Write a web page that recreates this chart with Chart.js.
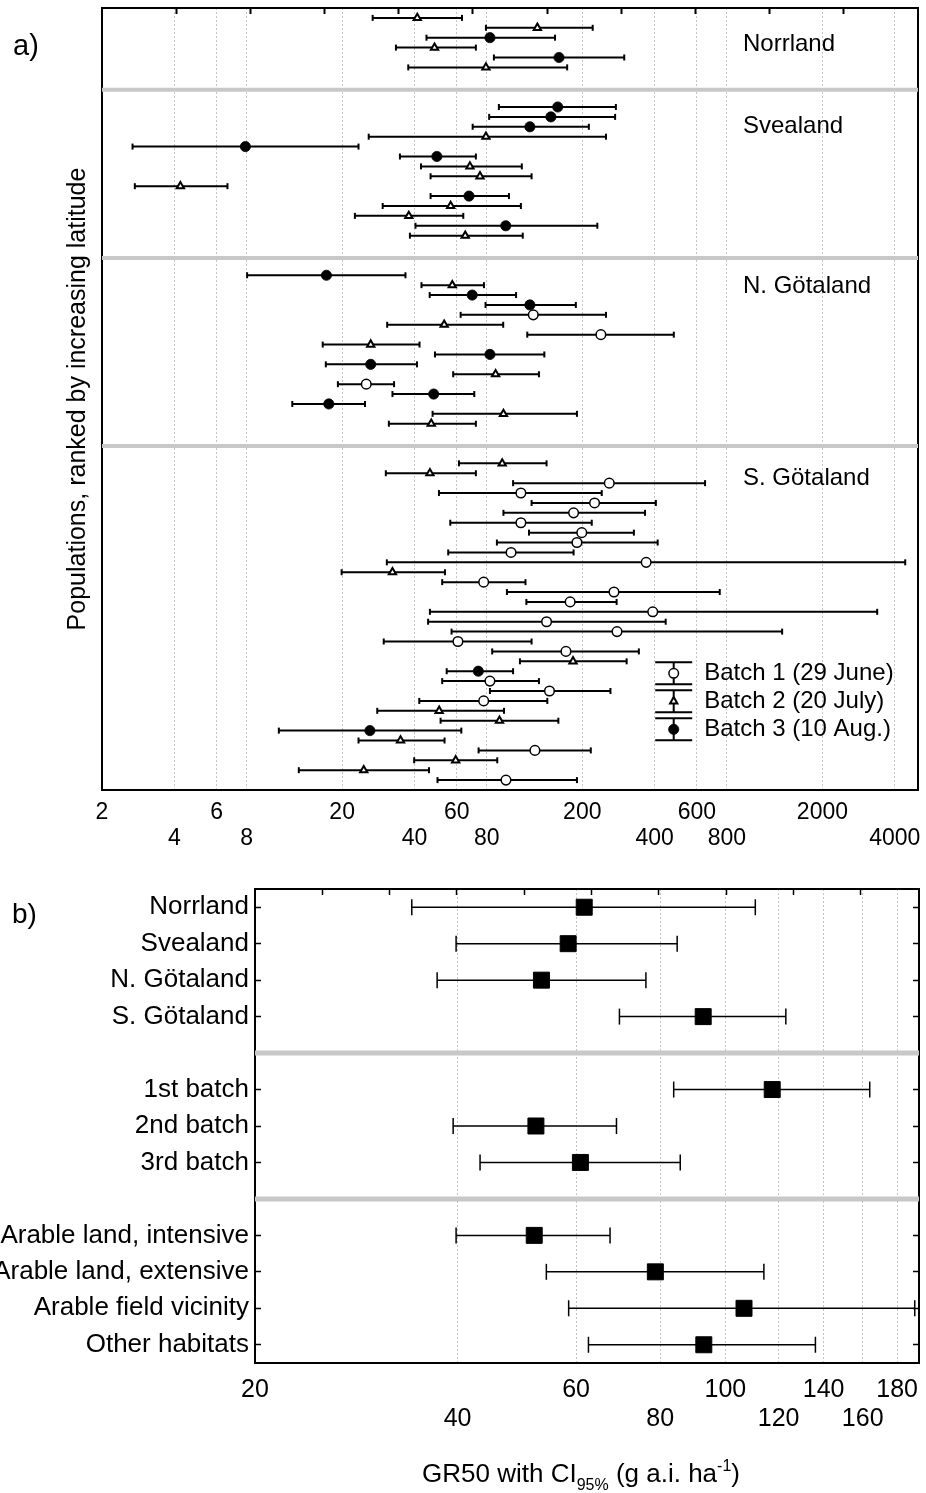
<!DOCTYPE html>
<html>
<head>
<meta charset="utf-8">
<title>GR50 with CI95%</title>
<script src="https://cdn.jsdelivr.net/npm/chart.js@4.4.1/dist/chart.umd.min.js"></script>
<style>
  body { margin: 0; background: #fff; }
  #wrapA { position: absolute; left: 0; top: 0; width: 926px; height: 870px; }
  #wrapB { position: absolute; left: 0; top: 870px; width: 926px; height: 623px; }
</style>
</head>
<body>
<div id="wrapA"><canvas id="chartA" width="926" height="870"></canvas></div>
<div id="wrapB"><canvas id="chartB" width="926" height="623"></canvas></div>
<script>
// ---- panel a: populations, ranked by increasing latitude ----
const regions = ['Norrland', 'Svealand', 'N. Götaland', 'S. Götaland'];
const regionSizes = [6, 14, 16, 33];

// 1 = batch 1 (29 June), 2 = batch 2 (20 July), 3 = batch 3 (10 Aug.)
const batchA = [
  2, 2, 3, 2, 3, 2,
  3, 3, 3, 2, 3, 3, 2, 2, 2, 3, 2, 2, 3, 2,
  3, 2, 3, 3, 1, 2, 1, 2, 3, 3, 2, 1, 3, 3, 2, 2,
  2, 2, 1, 1, 1, 1, 1, 1, 1, 1, 1, 2, 1, 1, 1, 1, 1, 1, 1, 1, 2, 3, 1, 1, 1, 2, 2, 3, 2, 1, 2, 2, 1
];
const gr50A = [
  41.1, 130, 82.5, 48.5, 160, 79.4,
  158, 148, 121, 79.4, 7.91, 49.6, 68.1, 75.0, 4.24, 67.5, 56.6, 37.9, 96, 65.1,
  17.2, 57.5, 69.6, 121, 125, 53.2, 239, 26.3, 82.5, 26.3, 87.1, 25.2, 48.1, 17.6, 93.9, 47.0,
  92.8, 46.4, 259, 111, 225, 184, 111, 199, 190, 101, 369, 32.4, 77.7, 271, 178, 393, 142, 279,
  60.7, 171, 183, 73.8, 82.5, 146, 77.7, 50.7, 90.4, 26.1, 35.0, 127, 59.4, 24.6, 96.2
];
const lowA = [
  26.8, 79.4, 44.9, 33.5, 85.7, 37.7,
  89.9, 81.9, 69.9, 25.8, 2.68, 34.8, 42.6, 46.7, 2.74, 46.7, 29.5, 22.6, 40.4, 38.3,
  8.04, 42.8, 46.3, 79.1, 62.3, 30.8, 118, 16.6, 48.7, 17.1, 58.0, 19.2, 32.4, 12.4, 47.6, 31.3,
  61.3, 30.4, 103, 50.6, 123, 93.9, 56.4, 120, 88.2, 55.3, 30.7, 19.9, 52.2, 97.1, 117, 46.4, 45.6, 57.1,
  29.8, 84.3, 110, 54.5, 52.2, 82.5, 41.9, 28.0, 51.4, 10.9, 23.4, 74.0, 39.9, 13.2, 49.9
];
const highA = [
  63.1, 221, 154, 72.1, 299, 173,
  276, 274, 213, 251, 23.4, 72.1, 112, 123, 6.66, 99, 111, 63.9, 231, 113,
  36.7, 77.9, 106, 188, 251, 93.7, 481, 42.0, 139, 41.0, 132, 32.9, 71.0, 24.9, 190, 72.1,
  142, 72.1, 649, 241, 405, 365, 219, 328, 412, 184, 4423, 53.6, 116, 747, 278, 3381, 445, 1359,
  123, 344, 306, 103, 132, 262, 143, 94.4, 159, 62.7, 53.4, 217, 88.5, 46.0, 190
];
const tickRow1A = [2, 6, 20, 60, 200, 600, 2000];
const tickRow2A = [4, 8, 40, 80, 400, 800, 4000];
const batchNames = ['Batch 1 (29 June)', 'Batch 2 (20 July)', 'Batch 3 (10 Aug.)'];

// ---- panel b: pooled estimates ----
const labelsB = ['Norrland', 'Svealand', 'N. Götaland', 'S. Götaland',
  '1st batch', '2nd batch', '3rd batch',
  'Arable land, intensive', 'Arable land, extensive', 'Arable field vicinity', 'Other habitats'];
const groupSizesB = [4, 3, 4];
const gr50B = [61.7, 58.4, 53.3, 92.7, 117.4, 52.3, 60.9, 52.0, 78.7, 106.6, 92.9];
const lowB = [34.2, 39.8, 37.3, 69.6, 83.8, 39.4, 43.2, 39.8, 54.2, 58.5, 62.6];
const highB = [110.8, 84.8, 76.2, 123, 163.9, 68.9, 85.7, 67.4, 114.1, 191.2, 136.1];
const tickRow1B = [20, 60, 100, 140, 180];
const tickRow2B = [40, 80, 120, 160];

const FONT = "'Liberation Sans', Arial, Helvetica, sans-serif";
Chart.defaults.font.family = FONT;
Chart.defaults.color = '#000';

const markerStyles = {
  1: { style: 'circle', radius: 4.8, bg: '#fff', bw: 1.5 },
  2: { style: 'triangle', radius: 4.2, bg: '#fff', bw: 2 },
  3: { style: 'circle', radius: 5.1, bg: '#000', bw: 0.8 }
};

// row positions on the y axis, 3 empty slots between regions
const rowPosA = [];
const sepPosA = [];
let p = 0;
regionSizes.forEach((n, r) => {
  if (r > 0) { sepPosA.push(p + 1.25); p += 3; }
  for (let i = 0; i < n; i++) rowPosA.push(p++);
});

const rowPosB = [];
const sepPosB = [];
p = 0;
groupSizesB.forEach((n, g) => {
  if (g > 0) { sepPosB.push(p); p += 1; }
  for (let i = 0; i < n; i++) rowPosB.push(p++);
});

function whisker(lo, hi, y, w, cap) {
  return {
    showLine: true,
    data: [{ x: lo, y: y }, { x: hi, y: y }],
    borderColor: '#000', borderWidth: w,
    pointStyle: 'line', pointRotation: 90, pointRadius: cap,
    pointBorderColor: '#000', pointBorderWidth: w,
    order: 2
  };
}

function separator(y, xmin, xmax, w) {
  return {
    showLine: true,
    data: [{ x: xmin, y: y }, { x: xmax, y: y }],
    borderColor: '#c8c8c8', borderWidth: w,
    pointRadius: 0, order: 3
  };
}

// fixed box sizes, no extra label overhang padding
function fixSize(w, h) {
  return s => {
    if (w !== null) s.width = w;
    if (h !== null) s.height = h;
    s.paddingLeft = 0; s.paddingRight = 0; s.paddingTop = 0; s.paddingBottom = 0;
  };
}

function drawMarker(ctx, st, x, y) {
  ctx.save();
  ctx.fillStyle = st.bg;
  ctx.strokeStyle = '#000';
  ctx.lineWidth = st.bw;
  ctx.beginPath();
  if (st.style === 'triangle') {
    let rad = 0;
    ctx.moveTo(x + Math.sin(rad) * st.radius, y - Math.cos(rad) * st.radius);
    rad += 2 * Math.PI / 3;
    ctx.lineTo(x + Math.sin(rad) * st.radius, y - Math.cos(rad) * st.radius);
    rad += 2 * Math.PI / 3;
    ctx.lineTo(x + Math.sin(rad) * st.radius, y - Math.cos(rad) * st.radius);
    ctx.closePath();
  } else {
    ctx.arc(x, y, st.radius, 0, Math.PI * 2);
  }
  ctx.fill();
  ctx.stroke();
  ctx.restore();
}

// ---- chart a ----
const datasetsA = [];
[1, 2, 3].forEach(b => {
  const st = markerStyles[b];
  const pts = [];
  batchA.forEach((bb, i) => { if (bb === b) pts.push({ x: gr50A[i], y: rowPosA[i] }); });
  datasetsA.push({
    data: pts,
    pointStyle: st.style, pointRadius: st.radius,
    pointBackgroundColor: st.bg, pointBorderColor: '#000', pointBorderWidth: st.bw,
    order: 0
  });
});
gr50A.forEach((v, i) => datasetsA.push(whisker(lowA[i], highA[i], rowPosA[i], 2, 3)));
sepPosA.forEach(y => datasetsA.push(separator(y, 2, 5000, 4)));

const textA = {
  id: 'textA',
  afterDraw(chart) {
    const { ctx, chartArea } = chart;
    ctx.save();
    ctx.fillStyle = '#000';
    ctx.textBaseline = 'middle';
    ctx.textAlign = 'left';
    ctx.font = '29px ' + FONT;
    ctx.fillText('a)', 13, 47);

    ctx.font = '24px ' + FONT;
    const labelY = [44, 126, 286, 478];
    regions.forEach((r, i) => ctx.fillText(r, chartArea.left + 641, labelY[i]));

    // legend with error bar glyphs
    const gx = chartArea.right - 244.3;
    const gy = chartArea.bottom - 116.7;
    [1, 2, 3].forEach((b, i) => {
      const yy = gy + i * 28;
      ctx.strokeStyle = '#000';
      ctx.lineWidth = 2;
      ctx.beginPath();
      ctx.moveTo(gx - 18.5, yy - 11); ctx.lineTo(gx + 18.5, yy - 11);
      ctx.moveTo(gx - 18.5, yy + 11); ctx.lineTo(gx + 18.5, yy + 11);
      ctx.moveTo(gx, yy - 11); ctx.lineTo(gx, yy + 11);
      ctx.stroke();
      drawMarker(ctx, markerStyles[b], gx, yy);
      ctx.fillStyle = '#000';
      ctx.fillText(batchNames[i], gx + 30.5, yy);
    });
    ctx.restore();
  }
};

new Chart(document.getElementById('chartA'), {
  type: 'scatter',
  data: { datasets: datasetsA },
  options: {
    responsive: false,
    animation: false,
    events: [],
    layout: { padding: 0, autoPadding: false },
    plugins: { legend: { display: false }, tooltip: { enabled: false } },
    scales: {
      x: {
        type: 'logarithmic', position: 'bottom', min: 2, max: 5000,
        afterBuildTicks: s => {
          s.ticks = tickRow1A.concat(tickRow2A).sort((a, b) => a - b).map(v => ({ value: v }));
        },
        ticks: {
          autoSkip: false, maxRotation: 0, padding: 10, color: '#000',
          font: { size: 23, lineHeight: '26px' },
          callback: v => tickRow1A.includes(v) ? [String(v), ''] : ['', String(v)]
        },
        grid: { color: '#c4c4c4', lineWidth: 1, drawTicks: false },
        border: { color: '#000', width: 2, dash: [2, 2] },
        afterFit: fixSize(null, 80)
      },
      x2: {
        type: 'linear', position: 'top', min: 0, max: 11,
        afterBuildTicks: s => { s.ticks = [1, 2, 3, 4, 5, 6, 7, 8, 9, 10].map(v => ({ value: v })); },
        ticks: { display: false },
        grid: { drawOnChartArea: false, drawTicks: true, tickLength: -6, tickWidth: 2, tickColor: '#000' },
        border: { color: '#000', width: 2 },
        afterFit: fixSize(null, 8)
      },
      y: {
        type: 'linear', position: 'left', reverse: true, min: -1, max: 78,
        ticks: { display: false },
        grid: { display: false },
        border: { color: '#000', width: 2 },
        title: {
          display: true, text: 'Populations, ranked by increasing latitude',
          color: '#000', font: { size: 25 }, padding: { top: 63, bottom: 0 }
        },
        afterFit: fixSize(102, null)
      },
      y2: {
        type: 'linear', position: 'right', reverse: true, min: -1, max: 78,
        ticks: { display: false },
        grid: { display: false },
        border: { color: '#000', width: 2 },
        afterFit: fixSize(8, null)
      }
    }
  },
  plugins: [textA]
});

// ---- chart b ----
const squareStyle = { pointStyle: 'rect', pointRadius: 11.3, pointBackgroundColor: '#000', pointBorderColor: '#000', pointBorderWidth: 1 };
const datasetsB = [Object.assign({
  data: gr50B.map((v, i) => ({ x: v, y: rowPosB[i] })),
  order: 0
}, squareStyle)];
gr50B.forEach((v, i) => datasetsB.push(whisker(lowB[i], highB[i], rowPosB[i], 1.5, 8)));
sepPosB.forEach(y => datasetsB.push(separator(y, 20, 194, 5)));

const rowLabelB = {};
rowPosB.forEach((pos, i) => { rowLabelB[pos] = labelsB[i]; });

const textB = {
  id: 'textB',
  afterDraw(chart) {
    const { ctx } = chart;
    ctx.save();
    ctx.fillStyle = '#000';
    ctx.textBaseline = 'middle';
    ctx.textAlign = 'left';
    ctx.font = '28px ' + FONT;
    ctx.fillText('b)', 12, 45);

    // axis title with subscript and superscript
    const parts = [
      { t: 'GR50 with CI', size: 26, dy: 0 },
      { t: '95%', size: 16, dy: 8 },
      { t: ' (g a.i. ha', size: 26, dy: 0 },
      { t: '-1', size: 16, dy: -11 },
      { t: ')', size: 26, dy: 0 }
    ];
    let total = 0;
    parts.forEach(pt => { ctx.font = pt.size + 'px ' + FONT; pt.w = ctx.measureText(pt.t).width; total += pt.w; });
    let x = 581 - total / 2;
    const y = 603;
    ctx.textBaseline = 'alphabetic';
    parts.forEach(pt => {
      ctx.font = pt.size + 'px ' + FONT;
      ctx.fillText(pt.t, x, y + 9 + pt.dy);
      x += pt.w;
    });
    ctx.restore();
  }
};

const slotTicksB = [0, 1, 2, 3, 4, 5, 6, 7, 8, 9, 10, 11, 12];

new Chart(document.getElementById('chartB'), {
  type: 'scatter',
  data: { datasets: datasetsB },
  options: {
    responsive: false,
    animation: false,
    events: [],
    layout: { padding: 0, autoPadding: false },
    plugins: { legend: { display: false }, tooltip: { enabled: false } },
    scales: {
      x: {
        type: 'logarithmic', position: 'bottom', min: 20, max: 194,
        afterBuildTicks: s => {
          s.ticks = tickRow1B.concat(tickRow2B).sort((a, b) => a - b).map(v => ({ value: v }));
        },
        ticks: {
          autoSkip: false, maxRotation: 0, padding: 12.5, color: '#000',
          font: { size: 25, lineHeight: '29px' },
          callback: v => tickRow1B.includes(v) ? [String(v), ''] : ['', String(v)]
        },
        grid: { color: '#c4c4c4', lineWidth: 1, drawTicks: false },
        border: { color: '#000', width: 2, dash: [2, 2] },
        afterFit: fixSize(null, 130)
      },
      x2: {
        type: 'linear', position: 'top', min: 0, max: 9.864,
        afterBuildTicks: s => { s.ticks = [1, 2, 3, 4, 5, 6, 7, 8, 9].map(v => ({ value: v })); },
        ticks: { display: false },
        grid: { drawOnChartArea: false, drawTicks: true, tickLength: -6, tickWidth: 1.5, tickColor: '#000' },
        border: { color: '#000', width: 2 },
        afterFit: fixSize(null, 19)
      },
      y: {
        type: 'linear', position: 'left', reverse: true, min: -0.5, max: 12.5,
        afterBuildTicks: s => { s.ticks = slotTicksB.map(v => ({ value: v })); },
        ticks: {
          autoSkip: false, padding: 12, color: '#000', font: { size: 26 },
          callback: v => rowLabelB[v] || ''
        },
        grid: { drawOnChartArea: false, drawTicks: true, tickLength: -6, tickWidth: 1.5, tickColor: '#000' },
        border: { color: '#000', width: 2 },
        afterFit: fixSize(255, null)
      },
      y2: {
        type: 'linear', position: 'right', reverse: true, min: -0.5, max: 12.5,
        afterBuildTicks: s => { s.ticks = slotTicksB.map(v => ({ value: v })); },
        ticks: { display: false },
        grid: { drawOnChartArea: false, drawTicks: true, tickLength: -6, tickWidth: 1.5, tickColor: '#000' },
        border: { color: '#000', width: 2 },
        afterFit: fixSize(7, null)
      }
    }
  },
  plugins: [textB]
});
</script>
</body>
</html>
